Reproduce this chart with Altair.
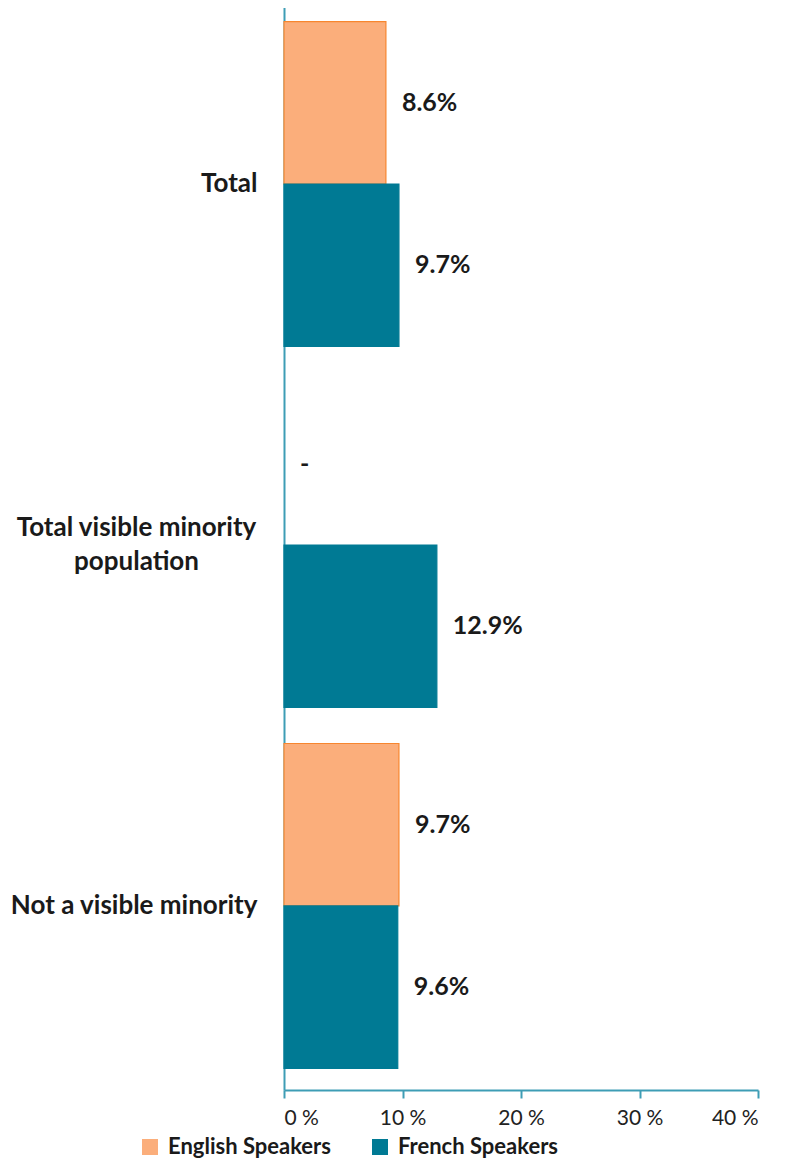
import altair as alt
import pandas as pd

categories = ["Total", "Total visible minority population", "Not a visible minority"]
series = ["English Speakers", "French Speakers"]
english = [8.6, None, 9.7]
french = [9.7, 12.9, 9.6]
x_ticks = [0, 10, 20, 30, 40]

rows = []
for c, e, f in zip(categories, english, french):
    rows.append({"category": c, "series": series[0], "value": e})
    rows.append({"category": c, "series": series[1], "value": f})
df = pd.DataFrame(rows)

FONT = "Lato"
AXIS_COLOR = "#3E9DB5"
TWO_LINE = "datum.value == 'Total visible minority population'"

base = alt.Chart(df).transform_calculate(
    label="datum.value == null ? '-' : format(datum.value, '.1f') + '%'",
    xpos="datum.value == null ? 0 : datum.value",
)

x_scale = alt.Scale(domain=[0, 40], nice=False)
x_axis = alt.Axis(
    title=None,
    values=x_ticks,
    labelExpr="datum.value + ' %'",
    grid=False,
    domainColor=AXIS_COLOR,
    domainWidth=2,
    tickColor=AXIS_COLOR,
    tickWidth=2,
    tickSize=8,
    labelFont=FONT,
    labelFontSize=21,
    labelColor="#222222",
    labelPadding=9,
)

y_enc = alt.Y(
    "category:N",
    sort=categories,
    scale=alt.Scale(paddingInner=0.1, paddingOuter=0.06),
    axis=alt.Axis(
        title=None,
        ticks=False,
        grid=False,
        domainColor=AXIS_COLOR,
        domainWidth=2,
        labelFont=FONT,
        labelFontSize=26,
        labelFontWeight="bold",
        labelColor="#1a1a1a",
        labelPadding={"condition": {"test": TWO_LINE, "value": 148}, "value": 27},
        labelAlign={"condition": {"test": TWO_LINE, "value": "center"}, "value": "right"},
        labelOffset={"condition": {"test": TWO_LINE, "value": -17}, "value": 0},
        labelLimit=320,
        labelLineHeight=34,
        labelExpr="datum.label == 'Total visible minority population' ? ['Total visible minority', 'population'] : datum.label",
    ),
)
yoff = alt.YOffset("series:N", sort=series)

bars = base.mark_bar(strokeWidth=1.2).encode(
    x=alt.X("value:Q", scale=x_scale, axis=x_axis),
    y=y_enc,
    yOffset=yoff,
    color=alt.Color(
        "series:N",
        sort=series,
        scale=alt.Scale(domain=series, range=["#FBAE7B", "#007A94"]),
        legend=alt.Legend(
            title=None,
            orient="none",
            direction="horizontal",
            legendX=-145,
            legendY=1136,
            symbolType="square",
            symbolSize=256,
            symbolStrokeWidth=0,
            labelFont=FONT,
            labelFontSize=22,
            labelFontWeight="bold",
            labelColor="#1a1a1a",
            labelLimit=300,
            columnPadding=38,
            labelOffset=7,
        ),
    ),
    stroke=alt.Stroke(
        "series:N",
        sort=series,
        scale=alt.Scale(domain=series, range=["#F7862F", "#007A94"]),
        legend=None,
    ),
)

labels = base.mark_text(
    align="left", baseline="middle", dx=16, font=FONT, fontSize=25, fontWeight="bold", color="#1a1a1a"
).encode(
    x=alt.X("xpos:Q", scale=x_scale, axis=x_axis),
    y=y_enc,
    yOffset=yoff,
    text="label:N",
)

chart = (
    alt.layer(bars, labels)
    .properties(
        width=474,
        height=1090,
        autosize=alt.AutoSizeParams(type="none"),
        padding={"left": 276, "top": -8, "right": 27, "bottom": 74},
        view=alt.ViewBackground(stroke="transparent", strokeWidth=0),
    )
    .configure_view(stroke="transparent", strokeWidth=0)
    .configure(background="white")
)

chart.save("out.html", embed_options={"renderer": "svg", "actions": False})
